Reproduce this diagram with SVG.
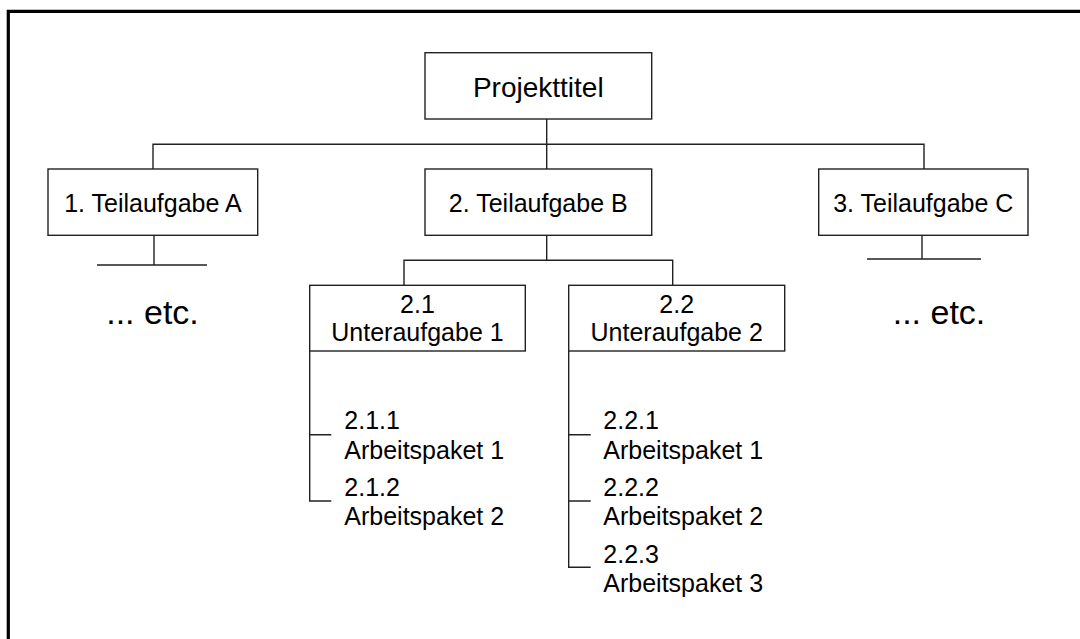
<svg xmlns="http://www.w3.org/2000/svg" width="1080" height="639" viewBox="0 0 1080 639">
  <style>
    .box { fill: #ffffff; stroke: #222222; stroke-width: 1.4; }
    .wire { fill: none; stroke: #222222; stroke-width: 1.4; }
    .frame { fill: none; stroke: #000000; stroke-width: 3.2; }
    text { font-family: "Liberation Sans", Arial, sans-serif; fill: #000000; }
    .t { font-size: 25px; }
    .c { text-anchor: middle; }
    .title { font-size: 28px; text-anchor: middle; }
    .etc { font-size: 34px; text-anchor: middle; }
  </style>

  <rect width="1080" height="639" fill="#ffffff"/>

  <!-- outer frame: top and left edges -->
  <path class="frame" d="M8.3,639 V11.3 H1080"/>

  <!-- connectors -->
  <g id="connectors">
    <!-- title to level 1 -->
    <path class="wire" d="M546.7,119 V169 M153,169 V144.3 H924 V169"/>
    <!-- level 1 A stub -->
    <path class="wire" d="M154,235 V265 M97,265 H207"/>
    <!-- level 1 C stub -->
    <path class="wire" d="M922,235 V259 M867,259 H981"/>
    <!-- B to level 2 -->
    <path class="wire" d="M546.7,235 V260.3 M404,285.3 V260.3 H672.7 V285.3"/>
    <!-- 2.1 work packages -->
    <path class="wire" d="M309.7,351 V501 H331.3 M309.7,434.7 H331.3"/>
    <!-- 2.2 work packages -->
    <path class="wire" d="M568.7,351 V567.3 H590.7 M568.7,434.7 H590.7 M568.7,501 H590.7"/>
  </g>

  <g id="node-title">
    <rect class="box" x="425" y="52.7" width="226.7" height="66.3"/>
    <text class="title" x="538.3" y="96.7">Projekttitel</text>
  </g>

  <g id="node-a">
    <rect class="box" x="48" y="169" width="209.7" height="66.3"/>
    <text class="t c" x="152.9" y="212">1. Teilaufgabe A</text>
  </g>

  <g id="node-b">
    <rect class="box" x="425" y="169" width="226.7" height="66.3"/>
    <text class="t c" x="538.3" y="212">2. Teilaufgabe B</text>
  </g>

  <g id="node-c">
    <rect class="box" x="818.7" y="169" width="209.3" height="66.3"/>
    <text class="t c" x="923.3" y="212">3. Teilaufgabe C</text>
  </g>

  <g id="etc-a">
    <text class="etc" x="152.5" y="324">... etc.</text>
  </g>

  <g id="etc-c">
    <text class="etc" x="939" y="324">... etc.</text>
  </g>

  <g id="node-2-1">
    <rect class="box" x="309.7" y="285.3" width="215.6" height="65.7"/>
    <text class="t c" x="417.5" y="313.3">2.1</text>
    <text class="t c" x="417.5" y="341">Unteraufgabe 1</text>
  </g>

  <g id="node-2-2">
    <rect class="box" x="568.7" y="285.3" width="216" height="65.7"/>
    <text class="t c" x="676.7" y="313.3">2.2</text>
    <text class="t c" x="676.7" y="341">Unteraufgabe 2</text>
  </g>

  <g id="wp-2-1-1">
    <text class="t" x="344.3" y="429.3">2.1.1</text>
    <text class="t" x="344.3" y="458.7">Arbeitspaket 1</text>
  </g>
  <g id="wp-2-1-2">
    <text class="t" x="344.3" y="496.3">2.1.2</text>
    <text class="t" x="344.3" y="525">Arbeitspaket 2</text>
  </g>

  <g id="wp-2-2-1">
    <text class="t" x="603.3" y="429.3">2.2.1</text>
    <text class="t" x="603.3" y="458.7">Arbeitspaket 1</text>
  </g>
  <g id="wp-2-2-2">
    <text class="t" x="603.3" y="496.3">2.2.2</text>
    <text class="t" x="603.3" y="525">Arbeitspaket 2</text>
  </g>
  <g id="wp-2-2-3">
    <text class="t" x="603.3" y="562.7">2.2.3</text>
    <text class="t" x="603.3" y="591.7">Arbeitspaket 3</text>
  </g>
</svg>
